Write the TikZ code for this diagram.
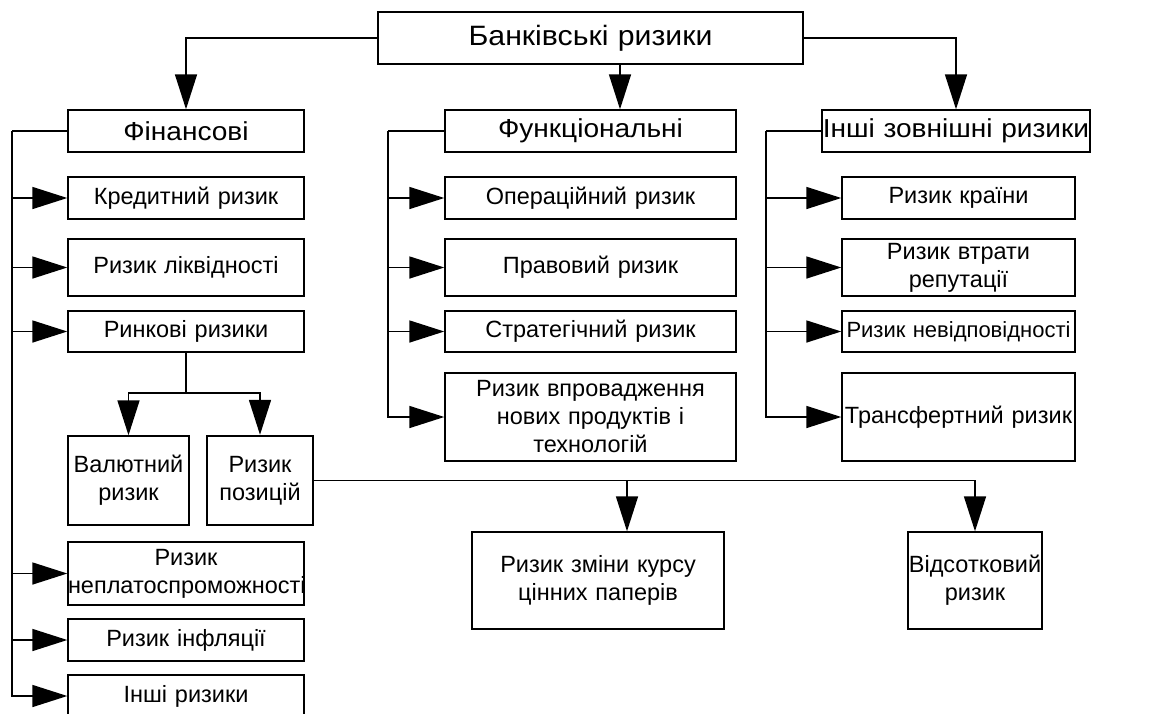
\documentclass[tikz,border=0pt]{standalone}
\usepackage{fontspec}
\setmainfont{Liberation Sans}
\newfontfamily\hfont[FakeStretch=1.08]{Liberation Sans}
\usetikzlibrary{arrows.meta}
\newcommand{\fsTop}{\hfont\fontsize{28}{32}\selectfont}
\newcommand{\fsA}{\hfont\fontsize{26}{30}\selectfont}
\newcommand{\fsB}{\fontsize{23.5}{28}\selectfont}
\newcommand{\fsC}{\fontsize{22}{28}\selectfont}
\tikzset{
  box/.style={draw, line width=1.4pt, inner sep=0pt, align=center, font=\fsB},
  hbox/.style={box, font=\fsA},
  conn/.style={line width=1.6pt},
  arr/.style={conn, -{Triangle[length=35pt,width=22pt]}},
}
\begin{document}
\begin{tikzpicture}[x=1pt,y=-1pt]
\useasboundingbox (0,0) rectangle (1157,713);
% top
\node[hbox, font=\fsTop, text width=425pt, minimum height=52pt] (top) at (590.5,38) {Банківські ризики};
% headers
\node[hbox, text width=236pt, minimum height=42pt] (fin) at (186,131) {Фінансові};
\node[hbox, text width=291pt, minimum height=42pt] (func) at (590.5,131) {Функціональні};
\node[hbox, text width=268pt, minimum height=42pt] (ext) at (956,131) {Інші зовнішні ризики};
% financial
\node[box, text width=236pt, minimum height=42pt] (cred) at (186,198) {Кредитний ризик};
\node[box, text width=236pt, minimum height=57pt] (liq) at (186,267.5) {Ризик ліквідності};
\node[box, text width=236pt, minimum height=41pt] (mkt) at (186,331.5) {Ринкові ризики};
\node[box, text width=121pt, minimum height=89pt] (val) at (128.5,480.5) {Валютний\\ризик};
\node[box, line width=2.4pt, text width=106pt, minimum height=89pt] (pos) at (260,480.5) {Ризик\\позицій};
\node[box, text width=236pt, minimum height=63pt] (insolv) at (186,573.5) {Ризик\\неплатоспроможності};
\node[box, text width=236pt, minimum height=42pt] (infl) at (186,640) {Ризик інфляції};
\node[box, text width=236pt, minimum height=42pt] (other) at (186,696) {Інші ризики};
% functional
\node[box, text width=291pt, minimum height=42pt] (op) at (590.5,198) {Операційний ризик};
\node[box, text width=291pt, minimum height=57pt] (legal) at (590.5,267.5) {Правовий ризик};
\node[box, text width=291pt, minimum height=41pt] (strat) at (590.5,331.5) {Стратегічний ризик};
\node[box, text width=291pt, minimum height=88pt] (newp) at (590.5,417) {Ризик впровадження\\нових продуктів і\\технологій};
% external
\node[box, text width=233pt, minimum height=42pt] (country) at (958.5,198) {Ризик країни};
\node[box, text width=233pt, minimum height=57pt] (rep) at (958.5,267.5) {Ризик втрати\\репутації};
\node[box, font=\fsC, text width=233pt, minimum height=41pt] (noncomp) at (958.5,331.5) {\mbox{Ризик невідповідності}};
\node[box, text width=233pt, minimum height=88pt] (transf) at (958.5,417) {Трансфертний ризик};
% position subtypes
\node[box, text width=252pt, minimum height=97pt] (sec) at (598,580.5) {Ризик зміни курсу\\цінних паперів};
\node[box, text width=134pt, minimum height=97pt] (int) at (975,580.5) {Відсотковий\\ризик};
% connectors from top
\draw[arr] (top.west) -| (fin.north);
\draw[arr] (top.south -| 620,0) -- (func.north -| 620,0);
\draw[arr] (top.east) -| (ext.north);
% financial trunk
\coordinate (lt) at (12,131);
\draw[conn] (fin.west) -- (lt);
\draw[arr] (lt) |- (other.west);
\foreach \n in {cred,liq,mkt,insolv,infl} \draw[arr] (lt |- \n.west) -- (\n.west);
% market split
\coordinate (mk) at (186,393);
\draw[conn] (mkt.south) -- (mk);
\draw[arr] (mk) -| (val.north);
\draw[arr] (mk) -| (pos.north);
% positions split
\draw[arr] (pos.east) -| (int.north);
\draw[arr] (pos.east -| 627,0) -- (sec.north -| 627,0);
% functional trunk
\coordinate (ft) at (388,131);
\draw[conn] (func.west) -- (ft);
\draw[arr] (ft) |- (newp.west);
\foreach \n in {op,legal,strat} \draw[arr] (ft |- \n.west) -- (\n.west);
% external trunk
\coordinate (et) at (766,131);
\draw[conn] (ext.west) -- (et);
\draw[arr] (et) |- (transf.west);
\foreach \n in {country,rep,noncomp} \draw[arr] (et |- \n.west) -- (\n.west);
\end{tikzpicture}
\end{document}
